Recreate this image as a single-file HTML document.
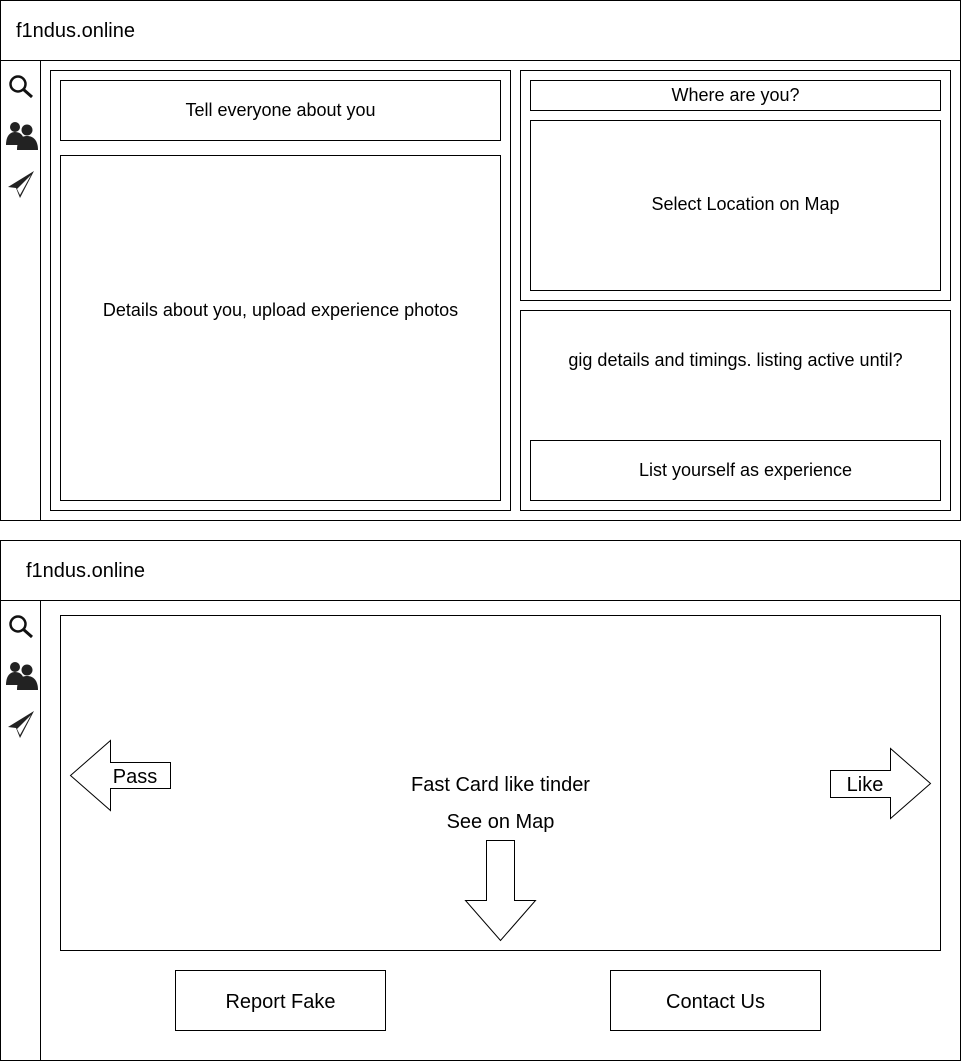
<!DOCTYPE html>
<html><head><meta charset="utf-8"><style>
html,body{margin:0;padding:0;background:#fff}
svg{display:block}
text{font-family:"Liberation Sans",Arial,sans-serif;fill:#000}
</style></head><body>
<svg width="961" height="1061" viewBox="0 0 961 1061" xmlns="http://www.w3.org/2000/svg">
<g fill="none" stroke="#000" stroke-width="1" shape-rendering="crispEdges">
<rect x="0.5" y="0.5" width="960" height="520"/>
<line x1="0" y1="60.5" x2="961" y2="60.5"/>
<line x1="40.5" y1="60" x2="40.5" y2="520"/>
<rect x="50.5" y="70.5" width="460" height="440"/>
<rect x="60.5" y="80.5" width="440" height="60"/>
<rect x="60.5" y="155.5" width="440" height="345"/>
<rect x="520.5" y="70.5" width="430" height="230"/>
<rect x="530.5" y="80.5" width="410" height="30"/>
<rect x="530.5" y="120.5" width="410" height="170"/>
<rect x="520.5" y="310.5" width="430" height="200"/>
<rect x="530.5" y="440.5" width="410" height="60"/>
<rect x="0.5" y="540.5" width="960" height="520"/>
<line x1="0" y1="600.5" x2="961" y2="600.5"/>
<line x1="40.5" y1="600" x2="40.5" y2="1061"/>
<rect x="60.5" y="615.5" width="880" height="335"/>
<rect x="175.5" y="970.5" width="210" height="60"/>
<rect x="610.5" y="970.5" width="210" height="60"/>
</g>
<g fill="#fff" stroke="#000" stroke-width="1">
<polygon points="70.5,775.5 110.5,740.5 110.5,762.5 170.5,762.5 170.5,788.5 110.5,788.5 110.5,810.5"/>
<polygon points="830.5,770.5 890.5,770.5 890.5,748.5 930.5,783.5 890.5,818.5 890.5,797.5 830.5,797.5"/>
<polygon points="486.5,840.5 514.5,840.5 514.5,900.5 535.5,900.5 500.5,940.5 465.5,900.5 486.5,900.5"/>
</g>
<defs>
<g id="icons">
<circle cx="18" cy="84" r="7.5" fill="none" stroke="#111" stroke-width="2.5"/>
<line x1="23.5" y1="89.5" x2="32" y2="97" stroke="#111" stroke-width="3"/>
<circle cx="15" cy="127" r="5" fill="#222"/>
<path d="M6,145 C6,136 10,132 15,132 C19,132 22,134 23,137 L20,145 Z" fill="#222"/>
<circle cx="27" cy="130" r="5.5" fill="#222"/>
<path d="M17,150 C17,140 21,136 27,136 C33,136 38,140 38,150 Z" fill="#222"/>
<path d="M34,171 L8,187 L16,188 L20,198 Z" fill="#222"/>
<path d="M31,175 L17,189 L20,195 Z" fill="#fff"/>
</g>
</defs>
<use href="#icons"/>
<use href="#icons" y="540"/>
<text x="16" y="37" font-size="20">f1ndus.online</text>
<text x="26" y="577" font-size="20">f1ndus.online</text>
<g font-size="18" text-anchor="middle">
<text x="280.5" y="116">Tell everyone about you</text>
<text x="280.5" y="316">Details about you, upload experience photos</text>
<text x="735.5" y="101">Where are you?</text>
<text x="745.5" y="210">Select Location on Map</text>
<text x="735.5" y="366">gig details and timings. listing active until?</text>
<text x="745.5" y="476">List yourself as experience</text>
</g>
<g font-size="20" text-anchor="middle">
<text x="135" y="783">Pass</text>
<text x="865" y="791">Like</text>
<text x="500.5" y="791">Fast Card like tinder</text>
<text x="500.5" y="828">See on Map</text>
<text x="280.5" y="1008">Report Fake</text>
<text x="715.5" y="1008">Contact Us</text>
</g>
</svg>
</body></html>
